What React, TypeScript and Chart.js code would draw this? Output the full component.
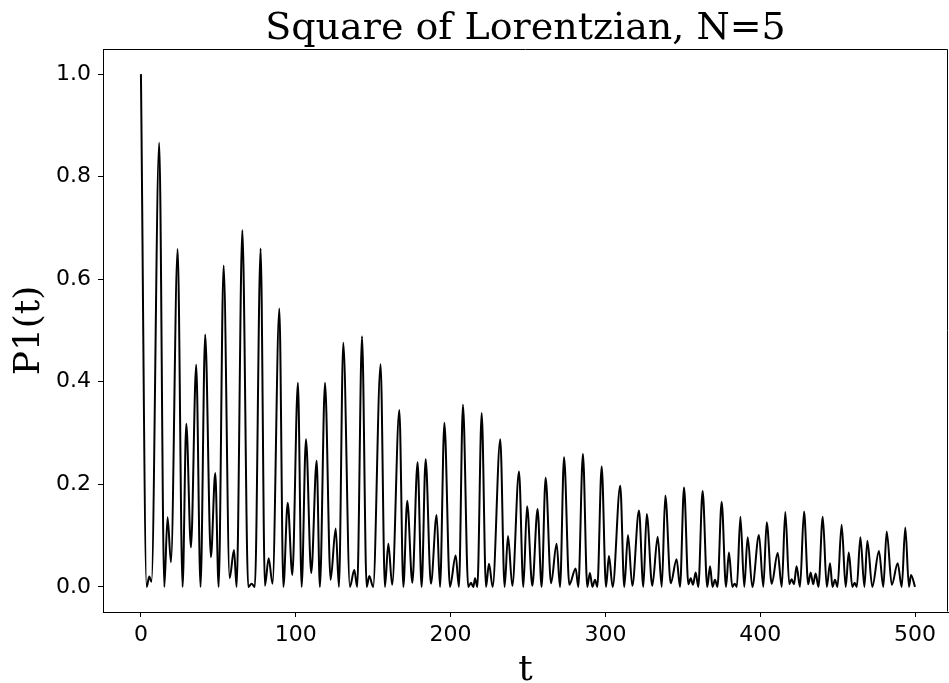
import React, { useEffect, useRef } from "react";
import { Chart, registerables } from "chart.js";

Chart.register(...registerables);

// time samples (peaks and troughs)
const T: number[] = [
  0, 3.7, 5.4, 6.8, 11.8, 15.1, 17.2, 19.4, 23.7, 26.9, 29.3, 32.3, 35.7, 38.5, 41.5, 45.2, 48.0, 50.2,
  53.4, 57.3, 60.1, 61.8, 65.5, 69.3, 71.5, 73.6, 77.3, 80.1, 82.5, 85.0, 89.4, 92.0, 94.8, 97.8,
  101.4, 103.8, 106.6, 110.0, 113.5, 115.6, 118.9, 122.5, 125.8, 127.9, 130.7, 135.0, 137.8, 139.7,
  142.8, 145.8, 147.5, 150.0, 154.8, 157.6, 159.8, 162.3, 166.9, 169.5, 172.0, 175.3, 178.7, 181.3,
  183.9, 187.3, 191.0, 193.2, 196.0, 199.6, 203.3, 205.4, 208.0, 211.4, 213.2, 214.7, 215.8, 217.3,
  220.1, 222.9, 224.8, 227.2, 232.1, 234.9, 237.1, 239.9, 244.2, 247.0, 249.4, 252.8, 256.2, 258.8,
  261.4, 264.9, 268.5, 270.7, 273.3, 276.7, 280.8, 282.5, 285.5, 288.3, 290.0, 291.6, 293.3, 294.8,
  297.6, 300.4, 302.3, 304.7, 309.6, 312.2, 314.6, 317.4, 321.7, 324.5, 326.7, 330.3, 333.8, 336.4,
  338.7, 342.2, 346.0, 348.2, 350.8, 353.6, 355.1, 356.6, 358.3, 360.0, 362.8, 365.8, 367.6, 369.2,
  370.8, 372.4, 375.1, 377.9, 379.8, 382.0, 383.5, 384.9, 387.2, 389.7, 391.9, 394.9, 399.2, 402.0,
  404.2, 407.4, 411.3, 413.9, 416.2, 418.8, 420.3, 421.8, 423.5, 425.7, 428.3, 431.0, 432.6, 434.2,
  435.8, 437.6, 440.4, 443.0, 445.1, 446.7, 448.3, 449.9, 452.6, 455.2, 457.2, 459.5, 461.0, 462.4,
  464.7, 467.3, 469.2, 472.4, 476.7, 479.5, 481.7, 485.0, 488.8, 491.4, 493.7, 496.1, 497.4, 500.0,
];

// P1(t) values at those samples
const P1: number[] = [
  1.0, 0.0, 0.02, 0.01, 0.866, 0.0, 0.136, 0.048, 0.659, 0.0, 0.318, 0.077, 0.433, 0.0, 0.492, 0.058, 0.222, 0.0,
  0.627, 0.017, 0.072, 0.0, 0.696, 0.0, 0.006, 0.0, 0.66, 0.002, 0.056, 0.006, 0.543, 0.0, 0.164, 0.023,
  0.398, 0.0, 0.288, 0.027, 0.246, 0.0, 0.398, 0.014, 0.114, 0.0, 0.476, 0.0, 0.033, 0.0,
  0.489, 0.0, 0.021, 0.0, 0.434, 0.0, 0.084, 0.004, 0.345, 0.0, 0.168, 0.008, 0.243, 0.0,
  0.249, 0.006, 0.14, 0.0, 0.32, 0.0, 0.061, 0.0, 0.355, 0.0, 0.008, 0.0, 0.017, 0.0,
  0.339, 0.0, 0.045, 0.0, 0.288, 0.0, 0.099, 0.002, 0.225, 0.0, 0.157, 0.002, 0.152, 0.0,
  0.213, 0.007, 0.084, 0.0, 0.253, 0.004, 0.036, 0.0, 0.259, 0.0, 0.027, 0.0, 0.014, 0.0,
  0.235, 0.0, 0.06, 0.0, 0.197, 0.0, 0.101, 0.002, 0.149, 0.0, 0.142, 0.002, 0.098, 0.0,
  0.178, 0.007, 0.054, 0.0, 0.194, 0.005, 0.017, 0.004, 0.028, 0.0, 0.187, 0.0, 0.04, 0.0,
  0.014, 0.0, 0.166, 0.0, 0.067, 0.0, 0.006, 0.0, 0.137, 0.0, 0.097, 0.0, 0.101, 0.0,
  0.126, 0.006, 0.066, 0.0, 0.146, 0.005, 0.015, 0.005, 0.04, 0.0, 0.147, 0.005, 0.028, 0.005,
  0.026, 0.0, 0.137, 0.0, 0.046, 0.0, 0.014, 0.0, 0.121, 0.0, 0.067, 0.0, 0.008, 0.0,
  0.097, 0.0, 0.09, 0.0, 0.07, 0.0, 0.108, 0.004, 0.046, 0.0, 0.116, 0.0, 0.023, 0.0,
];

const X_TICKS: number[] = [0, 100, 200, 300, 400, 500];
const Y_TICKS: number[] = [0, 0.2, 0.4, 0.6, 0.8, 1.0];

const TITLE = "Square of Lorentzian, N=5";
const X_LABEL = "t";
const Y_LABEL = "P1(t)";

// draws the axes frame (top/right spines) and the title centred over the plot area
const framePlugin = {
  id: "frame",
  afterDraw(chart: any) {
    const { ctx, chartArea } = chart;
    const l = Math.round(chartArea.left) + 0.5;
    const r = Math.round(chartArea.right) - 0.5;
    const t = Math.round(chartArea.top) + 0.5;
    const b = Math.round(chartArea.bottom) - 0.5;
    ctx.save();
    ctx.strokeStyle = "#000";
    ctx.lineWidth = 1;
    ctx.beginPath();
    ctx.moveTo(l, t);
    ctx.lineTo(r, t);
    ctx.lineTo(r, b);
    ctx.stroke();
    ctx.fillStyle = "#000";
    ctx.font = "38px 'DejaVu Serif', serif";
    ctx.textAlign = "center";
    ctx.textBaseline = "alphabetic";
    ctx.fillText(TITLE, (chartArea.left + chartArea.right) / 2, 39);
    ctx.restore();
  },
};

export default function App() {
  const ref = useRef<HTMLCanvasElement | null>(null);

  useEffect(() => {
    document.body.style.margin = "0";
    if (!ref.current) return;
    const points = T.map((t, i) => ({ x: t, y: P1[i] }));
    const tickFont = { family: "'DejaVu Sans', sans-serif", size: 22 };
    const serifFont = { family: "'DejaVu Serif', serif", size: 36, weight: "normal" as const };
    const chart = new Chart(ref.current, {
      type: "line",
      data: {
        datasets: [
          {
            data: points,
            borderColor: "#000",
            borderWidth: 2,
            pointRadius: 0,
            cubicInterpolationMode: "monotone",
            fill: false,
          },
        ],
      },
      options: {
        animation: false,
        responsive: false,
        devicePixelRatio: 1,
        layout: { padding: { left: 0, right: 1, top: 49, bottom: 0 } },
        plugins: {
          legend: { display: false },
          tooltip: { enabled: false },
          title: { display: false },
        },
        scales: {
          x: {
            type: "linear",
            min: -24.5,
            max: 521.3,
            afterBuildTicks: (scale: any) => {
              scale.ticks = X_TICKS.map((v) => ({ value: v }));
            },
            afterFit: (scale: any) => {
              scale.height = 71;
            },
            ticks: {
              color: "#000",
              font: tickFont,
              padding: 5,
              maxRotation: 0,
              autoSkip: false,
              callback: (v: any) => String(v),
            },
            grid: {
              display: true,
              drawOnChartArea: false,
              drawTicks: true,
              tickLength: 5,
              color: "#000",
              lineWidth: 1,
            },
            border: { display: true, color: "#000", width: 1 },
            title: {
              display: true,
              text: X_LABEL,
              color: "#000",
              font: serifFont,
              padding: { top: 0, bottom: -9 },
            },
          },
          y: {
            type: "linear",
            min: -0.049,
            max: 1.049,
            afterBuildTicks: (scale: any) => {
              scale.ticks = Y_TICKS.map((v) => ({ value: v }));
            },
            afterFit: (scale: any) => {
              scale.width = 103;
            },
            ticks: {
              color: "#000",
              font: tickFont,
              padding: 7,
              autoSkip: false,
              callback: (v: any) => Number(v).toFixed(1),
            },
            grid: {
              display: true,
              drawOnChartArea: false,
              drawTicks: true,
              tickLength: 5,
              color: "#000",
              lineWidth: 1,
            },
            border: { display: true, color: "#000", width: 1 },
            title: {
              display: true,
              text: Y_LABEL,
              color: "#000",
              font: serifFont,
              padding: { top: 8, bottom: 0 },
            },
          },
        },
      },
      plugins: [framePlugin],
    });
    return () => chart.destroy();
  }, []);

  return (
    <div style={{ width: 949, height: 683, position: "relative" }}>
      <canvas ref={ref} width={949} height={683} style={{ width: 949, height: 683, display: "block" }} />
    </div>
  );
}
